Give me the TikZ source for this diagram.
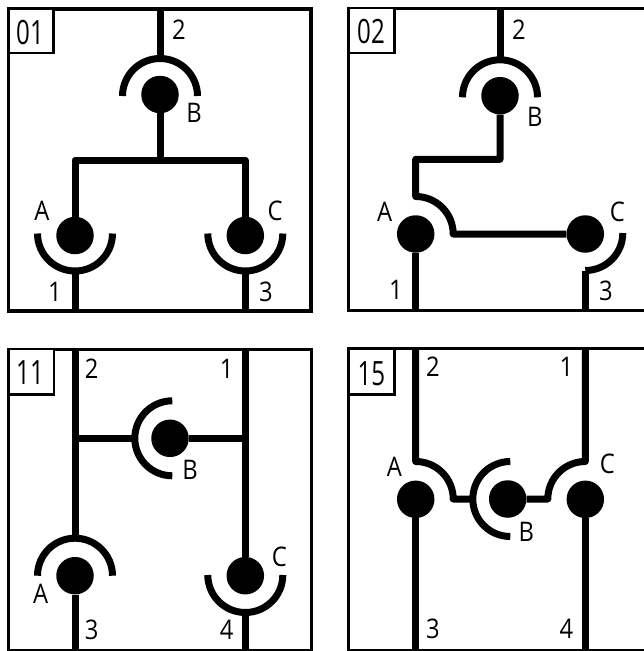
\documentclass[tikz,border=0pt]{standalone}
\usepackage{fontspec}
\setmainfont[FakeStretch=0.88]{Open Sans}
\newfontfamily\tagfont[FakeStretch=0.72]{Open Sans}
\tikzset{
  frameline/.style={draw=black,line width=3pt},
  tagbox/.style={draw=black,line width=2.5pt,fill=white},
  wire/.style={draw=black,line width=7pt,line join=round},
  shell/.style={draw=black,line width=7pt},
  ball/.style={circle,fill=black,inner sep=0pt,minimum size=37.5pt},
  lab/.style={inner sep=0pt,font=\fontsize{27}{27}\selectfont},
  tagtext/.style={inner sep=0pt,font=\tagfont\fontsize{33.5}{34}\selectfont},
}
\begin{document}
\begin{tikzpicture}[x=1pt,y=-1pt]
\useasboundingbox (0,0) rectangle (644,651);
% ---------- 01 ----------
\draw[frameline,line width=3.3pt] (8.5,9) rectangle (311,311);
\draw[tagbox] (8.5,9) rectangle (53.5,53);
\node[tagtext] (t01) at (30,33) {01};
\node[ball] (a1) at (75,235.5) {};
\node[ball] (b1) at (160,94.5) {};
\node[ball] (c1) at (245.3,235.5) {};
\coordinate (top1) at (160,9);
\coordinate (bt1) at (160,56);
\coordinate (j1) at (160,160);
\coordinate (ja1) at (75,160);
\coordinate (jc1) at (245.3,160);
\coordinate (ba1) at (75,273);
\coordinate (bc1) at (245.3,273);
\coordinate (ea1) at (75,311);
\coordinate (ec1) at (245.3,311);
\draw[wire] (top1) -- (bt1);
\draw[wire] (b1) -- (j1);
\draw[wire] (a1) -- (ja1) -- (jc1) -- (c1);
\draw[wire] (ba1) -- (ea1);
\draw[wire] (bc1) -- (ec1);
\draw[shell] (122.5,96) arc[start angle=180,end angle=360,radius=37.5];
\draw[shell] (37.5,233.5) arc[start angle=180,end angle=0,radius=37.5];
\draw[shell] (207.8,233.5) arc[start angle=180,end angle=0,radius=37.5];
\node[lab] (n2a) at (179,30) {2};
\node[lab] (nBa) at (194,113) {B};
\node[lab] (nAa) at (42,211) {A};
\node[lab] (nCa) at (275,211) {C};
\node[lab] (n1a) at (55,292) {1};
\node[lab] (n3a) at (266,292) {3};
% ---------- 02 ----------
\draw[frameline] (660,8) -- (348.7,8) -- (348.7,310) -- (660,310);
\draw[tagbox] (348.7,8) rectangle (394.7,53);
\node[tagtext] (t02) at (371,32) {02};
\node[ball] (a2) at (415.7,234) {};
\node[ball] (b2) at (500,95.7) {};
\node[ball] (c2) at (585.3,234) {};
\coordinate (top2) at (500,8);
\coordinate (bt2) at (500,57);
\coordinate (j2) at (500,159.3);
\coordinate (ja2) at (415.7,159.3);
\coordinate (ha2) at (415.7,196.5);
\coordinate (ea2) at (415.7,310);
\coordinate (bc2) at (585.3,271);
\coordinate (ec2) at (585.3,310);
\draw[wire] (top2) -- (bt2);
\draw[wire] (b2) -- (j2) -- (ja2) -- (ha2) arc[start angle=270,end angle=360,radius=37.5] -- (c2);
\draw[wire] (a2) -- (ea2);
\draw[wire] (bc2) -- (ec2);
\draw[shell] (462.5,97.3) arc[start angle=180,end angle=360,radius=37.5];
\draw[shell] (585.3,270.5) arc[start angle=90,end angle=0,radius=37.5];
\node[lab] (n2b) at (519,30) {2};
\node[lab] (nBb) at (534.7,116.7) {B};
\node[lab] (nAb) at (384.7,211.7) {A};
\node[lab] (nCb) at (617.3,211.7) {C};
\node[lab] (n1b) at (396,290) {1};
\node[lab] (n3b) at (606,290.7) {3};
% ---------- 11 ----------
\draw[frameline] (8.5,349) rectangle (311,650);
\draw[tagbox] (8.5,349) rectangle (54,394.3);
\node[tagtext] (t11) at (30,373) {11};
\node[ball] (a3) at (75,575.7) {};
\node[ball] (b3) at (170,438.3) {};
\node[ball] (c3) at (245.3,575.7) {};
\coordinate (ta3) at (75,349);
\coordinate (tc3) at (245.3,349);
\coordinate (ja3) at (75,438.3);
\coordinate (jc3) at (245.3,438.3);
\coordinate (sb3) at (135,438.3);
\coordinate (sa3) at (75,538);
\coordinate (ea3) at (75,651);
\coordinate (bc3) at (245.3,613);
\coordinate (ec3) at (245.3,651);
\draw[wire] (ta3) -- (sa3);
\draw[wire] (a3) -- (ea3);
\draw[wire] (tc3) -- (c3);
\draw[wire] (bc3) -- (ec3);
\draw[wire] (ja3) -- (sb3);
\draw[wire] (b3) -- (jc3);
\draw[shell] (37.5,575.7) arc[start angle=180,end angle=360,radius=37.5];
\draw[shell] (207.8,575) arc[start angle=180,end angle=0,radius=37.5];
\draw[shell] (172.3,400.8) arc[start angle=270,end angle=90,radius=37.5];
\node[lab] (n2c) at (91.7,369) {2};
\node[lab] (n1c) at (226.7,369) {1};
\node[lab] (nBc) at (190,470) {B};
\node[lab] (nCc) at (279.3,556.7) {C};
\node[lab] (nAc) at (40.7,594.3) {A};
\node[lab] (n3c) at (91.7,630) {3};
\node[lab] (n4c) at (226.7,630) {4};
% ---------- 15 ----------
\draw[frameline] (660,348.5) -- (348.7,348.5) -- (348.7,650) -- (660,650);
\draw[tagbox] (348.7,348.5) rectangle (394.7,394.3);
\node[tagtext] (t15) at (371.3,373.3) {15};
\node[ball] (a4) at (415.7,499.3) {};
\node[ball] (b4) at (507.7,499) {};
\node[ball] (c4) at (585.3,499.3) {};
\coordinate (ta4) at (415.7,348.5);
\coordinate (qa4) at (415.7,461.5);
\coordinate (sb4) at (473,499);
\coordinate (tc4) at (585.3,348.5);
\coordinate (qc4) at (585.3,461.5);
\coordinate (ea4) at (415.7,651);
\coordinate (ec4) at (585.3,651);
\draw[wire] (ta4) -- (qa4) arc[start angle=270,end angle=360,radius=37.5] -- (sb4);
\draw[wire] (tc4) -- (qc4) arc[start angle=270,end angle=180,radius=37.5] -- (b4);
\draw[wire] (a4) -- (ea4);
\draw[wire] (c4) -- (ec4);
\draw[shell] (510.3,461.5) arc[start angle=270,end angle=90,radius=37.5];
\node[lab] (n2d) at (433,366.7) {2};
\node[lab] (n1d) at (566.3,367) {1};
\node[lab] (nAd) at (394.3,466.7) {A};
\node[lab] (nCd) at (607.3,464) {C};
\node[lab] (nBd) at (526.3,531.7) {B};
\node[lab] (n3d) at (433,629) {3};
\node[lab] (n4d) at (566.3,629) {4};
\end{tikzpicture}
\end{document}
